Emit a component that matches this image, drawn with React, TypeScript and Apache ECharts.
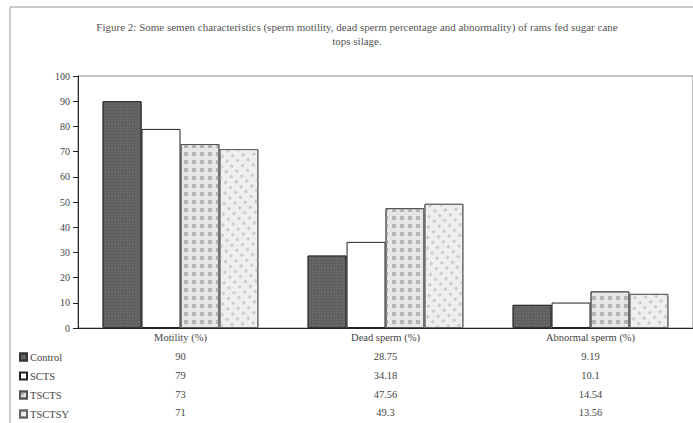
import React, { useEffect, useRef } from "react";
import * as echarts from "echarts";

const categories = ["Motility (%)", "Dead sperm (%)", "Abnormal sperm (%)"];
const seriesNames = ["Control", "SCTS", "TSCTS", "TSCTSY"];
const control = [90, 28.75, 9.19];
const scts = [79, 34.18, 10.1];
const tscts = [73, 47.56, 14.54];
const tsctsy = [71, 49.3, 13.56];
const tableLabels = [
  ["90", "28.75", "9.19"],
  ["79", "34.18", "10.1"],
  ["73", "47.56", "14.54"],
  ["71", "49.3", "13.56"],
];
const yTicks = [0, 10, 20, 30, 40, 50, 60, 70, 80, 90, 100];

const SERIF = "'Liberation Serif', 'DejaVu Serif', serif";

export default function App() {
  const ref = useRef<HTMLDivElement>(null);
  useEffect(() => {
    const chart = echarts.init(ref.current!, null, { renderer: "svg" });
    const values = [control, scts, tscts, tsctsy];
    const styles: any[] = [
      {
        color: "#5e5e5e",
        borderColor: "#333",
        borderWidth: 1,
        decal: {
          symbol: "rect",
          symbolSize: 0.6,
          color: "rgba(255,255,255,0.22)",
          dashArrayX: [2, 1],
          dashArrayY: [2, 1],
          rotation: 0,
        },
      },
      { color: "#ffffff", borderColor: "#222", borderWidth: 1 },
      {
        color: "#e6e6e6",
        borderColor: "#555",
        borderWidth: 1,
        decal: {
          symbol: "rect",
          symbolSize: 1,
          color: "#b4b4b4",
          dashArrayX: [[4, 4]],
          dashArrayY: [4, 4],
          rotation: 0,
        },
      },
      {
        color: "#efefef",
        borderColor: "#666",
        borderWidth: 1,
        decal: {
          symbol: "rect",
          symbolSize: 1,
          color: "#cdcdcd",
          dashArrayX: [[3, 4]],
          dashArrayY: [3, 5],
          rotation: Math.PI / 4,
        },
      },
    ];
    const tableOffsets = [19, 38, 57, 75];
    const tableAxes = tableLabels.map((row, i) => ({
      type: "category",
      data: categories,
      position: "bottom",
      offset: tableOffsets[i],
      axisLine: { show: false },
      axisTick: { show: false },
      axisLabel: {
        margin: 4,
        fontFamily: SERIF,
        fontSize: 10.5,
        color: "#444",
        formatter: (_v: string, idx: number) => row[idx],
      },
    }));
    chart.setOption({
      animation: false,
      backgroundColor: "#ffffff",
      title: {
        text:
          "Figure 2: Some semen characteristics (sperm motility, dead sperm percentage and abnormality) of rams fed sugar cane\ntops silage.",
        left: 352,
        textAlign: "center",
        top: 15,
        textStyle: {
          fontFamily: SERIF,
          fontSize: 11,
          fontWeight: "normal",
          color: "#555",
          lineHeight: 14,
        },
      },
      graphic: [
        {
          type: "polyline",
          shape: { points: [[10, 430], [10, 7], [700, 7]] },
          style: { stroke: "#9a9a9a", lineWidth: 1, fill: "none" },
          silent: true,
        },
      ],
      legend: {
        orient: "vertical",
        left: 19,
        top: 351,
        padding: 0,
        itemWidth: 7,
        itemHeight: 7,
        itemGap: 7,
        icon: "rect",
        textStyle: {
          fontFamily: SERIF,
          fontSize: 10.5,
          lineHeight: 12,
          color: "#444",
          padding: [0, 0, 0, -2],
        },
        data: seriesNames,
      },
      grid: {
        left: 78,
        right: 0,
        top: 76,
        bottom: 95,
        show: true,
        borderColor: "#888",
        borderWidth: 1,
      },
      xAxis: [
        {
          type: "category",
          data: categories,
          axisLine: { show: true, lineStyle: { color: "#222" } },
          axisTick: { show: false },
          axisLabel: { margin: 4, fontFamily: SERIF, fontSize: 10.5, color: "#444" },
        },
        ...tableAxes,
      ],
      yAxis: {
        type: "value",
        min: yTicks[0],
        max: yTicks[yTicks.length - 1],
        interval: 10,
        axisLine: { show: true, lineStyle: { color: "#222" } },
        axisTick: { show: true, length: 5, lineStyle: { color: "#222" } },
        splitLine: { show: false },
        axisLabel: { margin: 8, fontFamily: SERIF, fontSize: 10, color: "#444" },
      },
      series: seriesNames.map((name, i) => ({
        name,
        type: "bar",
        data: values[i],
        barGap: "0%",
        barCategoryGap: "24%",
        itemStyle: styles[i],
      })),
    });
    return () => chart.dispose();
  }, []);
  return (
    <div
      ref={ref}
      style={{ position: "absolute", left: 0, top: 0, width: 693, height: 423 }}
    />
  );
}
